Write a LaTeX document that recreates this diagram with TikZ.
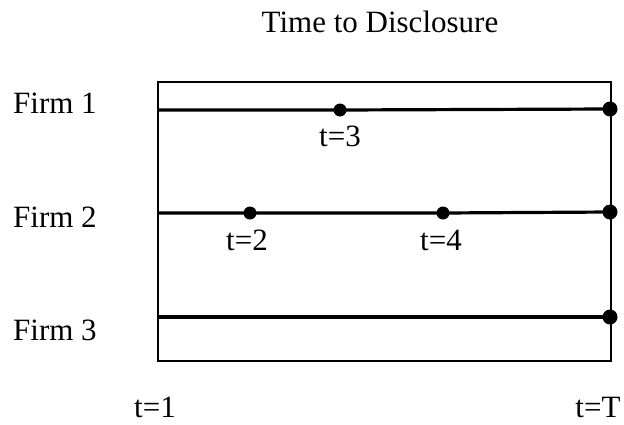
\documentclass[tikz,border=0pt]{standalone}
\usepackage{fontspec}
\setmainfont{Liberation Serif}
\begin{document}
\begin{tikzpicture}[x=1pt,y=-1pt,
  lbl/.style={font=\fontsize{31}{34}\selectfont, inner sep=0pt, anchor=base},
  track/.style={line width=3.2pt},
  frame/.style={line width=1.5pt},
  ev/.style={circle, fill=black, inner sep=0pt, minimum size=13pt},
  endpt/.style={circle, fill=black, inner sep=0pt, minimum size=15pt}]
\useasboundingbox (0,0) rectangle (624,424);
% title
\node[lbl] (title) at (380,32) {Time to Disclosure};
% frame
\draw[frame] (158,82) rectangle (611,361);
% firm labels
\node[lbl, anchor=base west] (f1) at (13,113) {Firm 1};
\node[lbl, anchor=base west] (f2) at (13,227) {Firm 2};
\node[lbl, anchor=base west] (f3) at (13,340) {Firm 3};
% track start/end points
\coordinate (s1) at (158,110);
\coordinate (s2) at (158,213);
\coordinate (s3) at (158,317);
\node[endpt] (e1) at (610,109) {};
\node[endpt] (e2) at (610,212) {};
\node[endpt] (e3) at (610,317) {};
% disclosure events
\node[ev] (d3) at (340,110) {};
\node[ev] (d2) at (250,213) {};
\node[ev] (d4) at (443,213) {};
% tracks
\draw[track] (s1) -- (d3.center) -- (e1.center);
\draw[track] (s2) -- (d2.center) -- (d4.center) -- (e2.center);
\draw[track] (s3) -- (e3.center);
% event labels
\node[lbl] (l3) at (340,146) {t=3};
\node[lbl] (l2) at (247,250) {t=2};
\node[lbl] (l4) at (441,250) {t=4};
% axis labels
\node[lbl] (t1) at (155,417) {t=1};
\node[lbl] (tT) at (598,417) {t=T};
\end{tikzpicture}
\end{document}
